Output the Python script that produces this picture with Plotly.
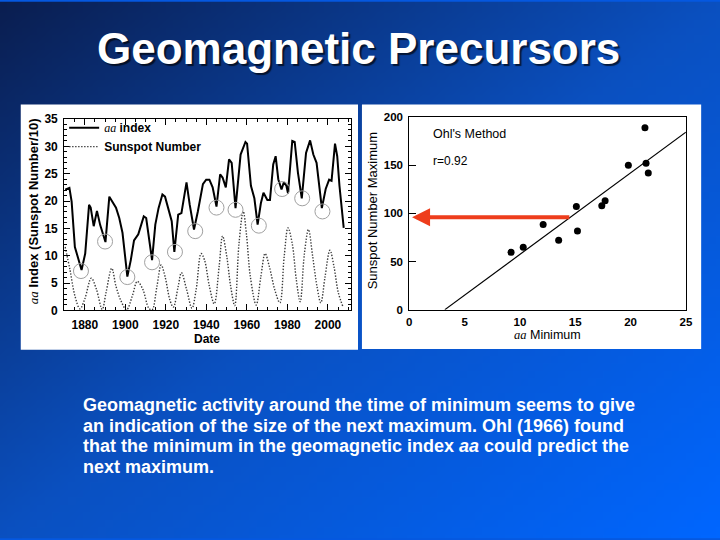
import zlib, struct, base64
import plotly.graph_objects as go

# ---------------- data ----------------
aa_years = [1870.3, 1872.4, 1873.5, 1875.1, 1878.4, 1880.2, 1882.1, 1882.9, 1884.4, 1886.0,
            1887.6, 1890.2, 1892.1, 1894.1, 1895.4, 1897.0, 1898.6, 1901.0, 1902.7, 1904.3,
            1906.4, 1909.1, 1910.3, 1913.2, 1914.8, 1916.4, 1918.3, 1919.6, 1922.9, 1924.2,
            1926.1, 1927.7, 1930.2, 1931.8, 1933.9, 1935.8, 1938.3, 1939.9, 1941.5, 1943.1,
            1945.0, 1946.8, 1948.0, 1949.6, 1951.2, 1952.5, 1954.4, 1956.9, 1959.3, 1960.1,
            1962.0, 1963.7, 1965.3, 1966.9, 1968.2, 1970.1, 1971.4, 1973.0, 1974.2, 1975.5,
            1977.1, 1978.2, 1979.5, 1980.3, 1982.4, 1983.6, 1985.2, 1987.1, 1989.2, 1991.2,
            1992.8, 1994.4, 1997.0, 1998.9, 2000.6, 2001.8, 2003.5, 2004.6, 2005.7, 2007.8]
aa_values = [22.1, 22.4, 19.9, 11.6, 7.4, 10.4, 19.3, 18.8, 15.4, 18.2,
             15.6, 12.5, 20.8, 19.6, 18.8, 16.9, 14.2, 6.2, 9.2, 12.8,
             13.9, 17.2, 16.9, 9.2, 15.7, 18.7, 21.2, 20.8, 16.3, 10.7,
             17.5, 17.8, 23.4, 19.3, 14.8, 18.1, 23.1, 23.9, 23.9, 22.5,
             19.0, 24.9, 24.3, 22.5, 27.6, 27.0, 18.7, 28.5, 30.8, 30.5,
             22.8, 20.5, 15.7, 19.6, 21.5, 20.2, 20.2, 26.7, 28.2, 24.0,
             22.1, 23.4, 22.8, 21.4, 31.0, 30.8, 25.2, 20.5, 28.8, 31.1,
             28.5, 27.0, 18.7, 22.2, 23.9, 23.7, 30.5, 28.2, 22.8, 15.1]

ssn_years = [1870.3, 1872.7, 1875.1, 1877.6, 1880.0, 1883.2, 1885.7, 1888.6, 1890.5, 1893.3,
             1895.4, 1897.8, 1900.6, 1903.5, 1905.9, 1908.6, 1911.6, 1913.2, 1915.6, 1917.7,
             1919.6, 1922.1, 1923.7, 1926.1, 1927.7, 1930.2, 1932.9, 1935.0, 1937.4, 1939.1,
             1941.5, 1943.9, 1946.3, 1948.0, 1950.1, 1952.0, 1954.0, 1956.1, 1958.2, 1959.8,
             1961.7, 1964.6, 1966.9, 1969.0, 1971.1, 1973.9, 1976.3, 1978.4, 1980.3, 1982.4,
             1984.4, 1986.3, 1988.4, 1990.4, 1992.5, 1994.6, 1996.5, 1998.6, 2001.0, 2003.0,
             2005.1, 2007.3]
ssn_values = [11.6, 7.4, 2.7, 0.3, 2.1, 5.9, 3.9, 0.2, 3.3, 7.7,
              4.4, 1.8, 0.1, 2.7, 5.3, 3.9, 0.4, 0.1, 4.4, 8.3,
              6.2, 1.8, 0.6, 4.4, 6.9, 3.9, 0.4, 3.9, 10.4, 9.2,
              4.4, 1.2, 8.0, 13.6, 9.8, 4.4, 0.9, 12.2, 18.1, 13.9,
              6.2, 1.0, 6.2, 10.4, 8.0, 3.6, 1.4, 9.8, 15.1, 12.2,
              5.6, 1.6, 10.4, 14.8, 9.8, 4.4, 1.4, 6.2, 11.0, 8.0,
              3.3, 0.8]

min_years = [1878.1, 1890.0, 1901.0, 1913.2, 1924.5, 1934.5, 1945.0, 1954.4, 1965.9, 1977.4, 1987.3, 1997.3]
min_values = [7.2, 12.6, 6.1, 8.8, 10.7, 14.5, 18.8, 18.4, 15.5, 22.2, 20.5, 18.1]

aa_min = [9.2, 10.3, 12.1, 13.5, 15.1, 15.2, 17.4, 17.7, 19.8, 21.3, 21.4, 21.6]
ssn_max = [59.5, 64.9, 88.5, 72.0, 107.0, 81.8, 108.0, 113.0, 150.0, 189.0, 152.0, 142.0]
fit_slope = 8.46
fit_intercept = -27.2
pred_aa = 14.6
pred_max = 96.0

left_xticks = [1880, 1900, 1920, 1940, 1960, 1980, 2000]
left_yticks = [0, 5, 10, 15, 20, 25, 30, 35]
right_xticks = [0, 5, 10, 15, 20, 25]
right_yticks = [0, 50, 100, 150, 200]

body_lines = [
    "Geomagnetic activity around the time of minimum seems to give",
    "an indication of the size of the next maximum. Ohl (1966) found",
    "that the minimum in the geomagnetic index <i>aa</i> could predict the",
    "next maximum.",
]

# ---------------- background gradient ----------------
W, H = 720, 540

def lerp(a, b, t):
    return tuple(int(round(a[k] + (b[k] - a[k]) * t)) for k in range(3))

c0, c1, c2 = (10, 30, 80), (10, 80, 192), (0, 102, 255)

def grad(u, v):
    t = (u + v) / 2.0
    if t < 0.5:
        return lerp(c0, c1, t / 0.5)
    return lerp(c1, c2, (t - 0.5) / 0.5)

def make_png(w, h):
    raw = bytearray()
    for j in range(h):
        raw.append(0)
        for i in range(w):
            raw.extend(bytes(grad(i / (w - 1), j / (h - 1))))
    def chunk(t, d):
        c = struct.pack('>I', len(d)) + t + d
        return c + struct.pack('>I', zlib.crc32(t + d) & 0xffffffff)
    png = (b'\x89PNG\r\n\x1a\n'
           + chunk(b'IHDR', struct.pack('>IIBBBBB', w, h, 8, 2, 0, 0, 0))
           + chunk(b'IDAT', zlib.compress(bytes(raw)))
           + chunk(b'IEND', b''))
    return 'data:image/png;base64,' + base64.b64encode(png).decode()

bg_src = make_png(96, 72)

def px(x):
    return x / W

def py(y):
    return 1 - y / H

SANS = "Liberation Sans, Arial, sans-serif"
SERIF = "Liberation Serif"
AA = f'<span style="font-family:{SERIF};font-style:italic;font-weight:normal">aa</span>'

fig = go.Figure()

# left chart traces
fig.add_trace(go.Scatter(x=aa_years, y=aa_values, mode="lines", name=f"{AA} index",
                         line=dict(color="black", width=2), xaxis="x", yaxis="y"))
fig.add_trace(go.Scatter(x=ssn_years, y=ssn_values, mode="lines", name="Sunspot Number",
                         line=dict(color="#3a3a3a", width=1.4, dash="1.4px,1.6px", shape="spline"),
                         xaxis="x", yaxis="y"))
fig.add_trace(go.Scatter(x=min_years, y=min_values, mode="markers", showlegend=False,
                         marker=dict(symbol="circle-open", size=15, color="#a0a0a0",
                                     line=dict(width=1)),
                         xaxis="x", yaxis="y"))

# right chart traces
x_start = -fit_intercept / fit_slope
x_end = right_xticks[-1]
fig.add_trace(go.Scatter(x=[x_start, x_end],
                         y=[fit_slope * x_start + fit_intercept, fit_slope * x_end + fit_intercept],
                         mode="lines", showlegend=False, line=dict(color="black", width=1.2),
                         xaxis="x2", yaxis="y2"))
fig.add_trace(go.Scatter(x=aa_min, y=ssn_max, mode="markers", showlegend=False,
                         marker=dict(color="black", size=7), xaxis="x2", yaxis="y2"))

tickfont = dict(family=SANS, size=12, color="black", weight="bold")
tickfont_r = dict(family=SANS, size=11.5, color="black", weight="bold")

fig.update_layout(
    width=W, height=H,
    margin=dict(l=0, r=0, t=0, b=0),
    paper_bgcolor="#0558e0",
    plot_bgcolor="white",
    showlegend=True,
    legend=dict(x=px(62), y=py(109), xanchor="left", yanchor="top",
                bgcolor="rgba(0,0,0,0)", font=dict(family=SANS, size=12, color="black", weight="bold"),
                itemwidth=30, tracegroupgap=0),
    xaxis=dict(domain=[px(62), px(352.5)], range=[1869.8, 2011.2],
               tickvals=left_xticks, ticks="inside", ticklen=6, tickcolor="black",
               mirror="allticks", showline=True, linecolor="black", linewidth=1,
               showgrid=False, zeroline=False, tickfont=tickfont, ticklabelstandoff=3,
               minor=dict(dtick=5, tick0=1870, ticks="inside", ticklen=3, tickcolor="black",
                          showgrid=False)),
    yaxis=dict(domain=[py(311.5), py(115)], range=[0, 35],
               tickvals=left_yticks, ticks="inside", ticklen=6, tickcolor="black",
               mirror="allticks", showline=True, linecolor="black", linewidth=1,
               showgrid=False, zeroline=False, tickfont=tickfont, ticklabelstandoff=3,
               minor=dict(dtick=1, ticks="inside", ticklen=3, tickcolor="black", showgrid=False)),
    xaxis2=dict(domain=[px(412), px(692.5)], range=[0, 25], anchor="y2",
                tickvals=right_xticks, ticks="", mirror=True, showline=True,
                linecolor="black", linewidth=1, showgrid=False, zeroline=False,
                tickfont=tickfont_r, ticklabelstandoff=2),
    yaxis2=dict(domain=[py(310.7), py(113)], range=[0, 200], anchor="x2",
                tickvals=right_yticks, ticks="inside", ticklen=7, tickcolor="black",
                mirror=True, showline=True, linecolor="black", linewidth=1,
                showgrid=False, zeroline=False, tickfont=tickfont_r, ticklabelstandoff=3),
    images=[dict(source=bg_src, xref="paper", yref="paper", x=-0.01, y=1.01, sizex=1.02, sizey=1.02,
                 xanchor="left", yanchor="top", sizing="stretch", layer="below")],
    shapes=[
        dict(type="rect", xref="paper", yref="paper", x0=px(18), x1=px(360), y0=py(352), y1=py(100),
             fillcolor="white", line=dict(width=0), layer="below"),
        dict(type="rect", xref="paper", yref="paper", x0=px(364), x1=px(708), y0=py(351), y1=py(100),
             fillcolor="white", line=dict(width=0), layer="below"),
    ],
)

ann = []
# title
ann.append(dict(text="Geomagnetic Precursors", xref="paper", yref="paper", x=0.5, y=py(43),
                xanchor="center", yanchor="middle", showarrow=False,
                font=dict(family=SANS, size=44, color="white", weight="bold",
                          shadow="2px 2px 1px rgba(0,0,0,0.65)")))
# body text
for i, line in enumerate(body_lines):
    ann.append(dict(text=line, xref="paper", yref="paper", x=px(79), y=py(408.5 + 21.3 * i),
                    xanchor="left", yanchor="middle", showarrow=False,
                    font=dict(family=SANS, size=18, color="white", weight="bold")))
# left chart axis titles
ann.append(dict(text=f"{AA} Index (Sunspot Number/10)", xref="paper", yref="paper",
                x=px(31), y=py(210), textangle=-90, showarrow=False,
                xanchor="center", yanchor="middle",
                font=dict(family=SANS, size=13, color="black", weight="bold")))
ann.append(dict(text="Date", xref="paper", yref="paper", x=px(207), y=py(341), showarrow=False,
                xanchor="center", yanchor="middle",
                font=dict(family=SANS, size=12, color="black", weight="bold")))
# right chart labels
ann.append(dict(text="Sunspot Number Maximum", xref="paper", yref="paper",
                x=px(375), y=py(209), textangle=-90, showarrow=False,
                xanchor="center", yanchor="middle",
                font=dict(family=SANS, size=13, color="black")))
ann.append(dict(text=f'<span style="font-family:{SERIF};font-style:italic">aa</span> Minimum',
                xref="paper", yref="paper", x=px(552), y=py(337), showarrow=False,
                xanchor="center", yanchor="middle",
                font=dict(family=SANS, size=12.5, color="black")))
ann.append(dict(text="Ohl's Method", xref="paper", yref="paper", x=px(434), y=py(130),
                xanchor="left", yanchor="middle", showarrow=False,
                font=dict(family=SANS, size=12.5, color="black")))
ann.append(dict(text="r=0.92", xref="paper", yref="paper", x=px(434), y=py(158),
                xanchor="left", yanchor="middle", showarrow=False,
                font=dict(family=SANS, size=12, color="black")))
# prediction arrow
ann.append(dict(text="", x=0.25, y=pred_max, xref="x2", yref="y2",
                ax=pred_aa, ay=pred_max, axref="x2", ayref="y2",
                showarrow=True, arrowhead=2, arrowsize=0.9, arrowwidth=4,
                arrowcolor="#ee3d1c"))
fig.update_layout(annotations=ann)

fig.write_html("out.html", config={"displayModeBar": False},
               post_script="document.body.style.margin='0';document.body.style.overflow='hidden';")
